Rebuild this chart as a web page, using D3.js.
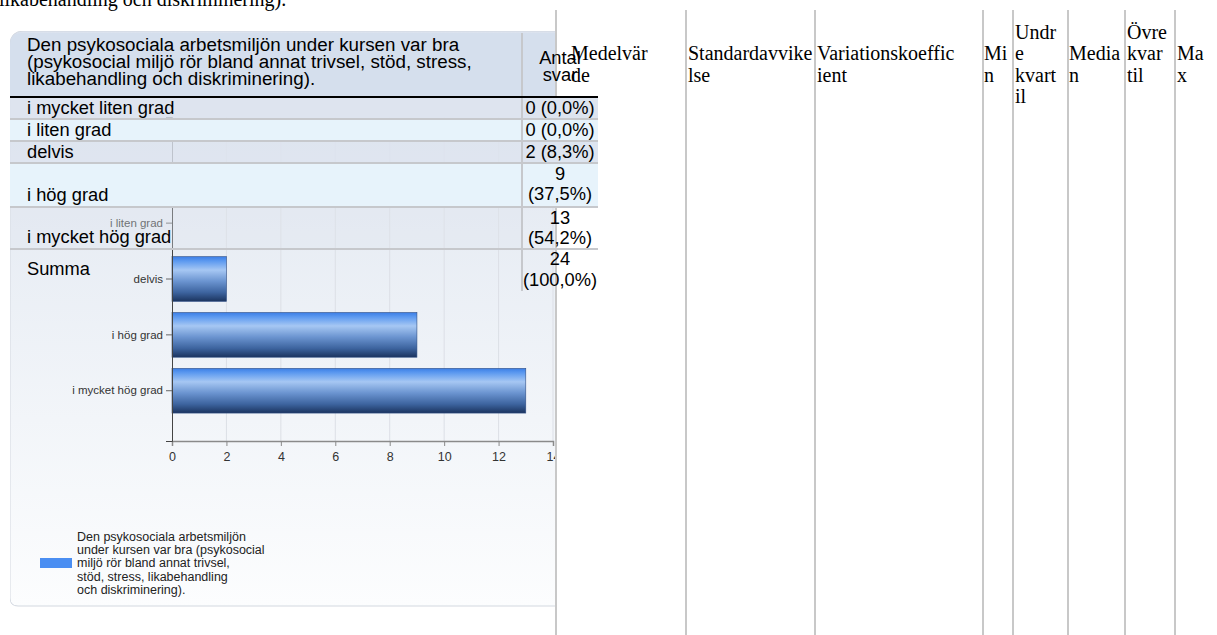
<!DOCTYPE html>
<html><head><meta charset="utf-8">
<script src="https://cdn.jsdelivr.net/npm/d3@7"></script>
<style>
html,body{margin:0;padding:0;background:#fff;}
svg{display:block;}
</style></head>
<body>
<svg id="page" width="1217" height="635"></svg>
<script>
// Survey question and answer counts
const questionLines = [
  "Den psykosociala arbetsmiljön under kursen var bra",
  "(psykosocial miljö rör bland annat trivsel, stöd, stress,",
  "likabehandling och diskriminering)."
];
const categories = ["i mycket liten grad", "i liten grad", "delvis", "i hög grad", "i mycket hög grad"];
const counts = [0, 0, 2, 9, 13];
const xTicks = [0, 2, 4, 6, 8, 10, 12, 14];
const legendLines = [
  "Den psykosociala arbetsmiljön",
  "under kursen var bra (psykosocial",
  "miljö rör bland annat trivsel,",
  "stöd, stress, likabehandling",
  "och diskriminering)."
];
// Statistics table headers, as wrapped in their narrow columns
const statHeaders = [["Medelvär","de"],["Standardavvike","lse"],["Variationskoeffic","ient"],["Mi","n"],["Undr","e","kvart","il"],["Media","n"],["Övre","kvar","til"],["Ma","x"]];
const statFirstLine = [1, 1, 1, 1, 0, 1, 0, 1];

const svg = d3.select("#page");
const total = d3.sum(counts);
const pct = v => "(" + d3.format(".1f")(v / total * 100).replace(".", ",") + "%)";
const SANS = "Arial, Liberation Sans, sans-serif";
const SERIF = "Liberation Serif, Times New Roman, serif";

const defs = svg.append("defs");
const pg = defs.append("linearGradient").attr("id","panelGrad").attr("x1",0).attr("y1",0).attr("x2",0).attr("y2",1);
pg.append("stop").attr("offset","0%").attr("stop-color","#dbe2ee");
pg.append("stop").attr("offset","35%").attr("stop-color","#e8edf4");
pg.append("stop").attr("offset","100%").attr("stop-color","#fcfdfe");
const bg = defs.append("linearGradient").attr("id","barGrad").attr("x1",0).attr("y1",0).attr("x2",0).attr("y2",1);
[["0%","#3b7ee6"],["10%","#5d9af0"],["30%","#a6c7f3"],["55%","#6b94d0"],["80%","#3d649f"],["100%","#1b345f"]]
  .forEach(([o,c]) => bg.append("stop").attr("offset",o).attr("stop-color",c));
defs.append("clipPath").attr("id","panelClip").append("rect").attr("x",10).attr("y",31).attr("width",547).attr("height",580);
const blur = defs.append("filter").attr("id","soft").attr("x","-5%").attr("y","-50%").attr("width","110%").attr("height","200%");
blur.append("feGaussianBlur").attr("stdDeviation",1.2);

// Text cut at the top edge
svg.append("text").attr("x",-1).attr("y",6)
  .attr("font-family",SERIF).attr("font-size",20).attr("fill","#000")
  .text(questionLines[2]);

// ---- Chart panel ----
svg.append("line").attr("x1",14).attr("x2",557).attr("y1",608).attr("y2",608)
  .attr("stroke","#8a8a8a").attr("stroke-width",3).attr("filter","url(#soft)");
const panel = svg.append("g").attr("clip-path","url(#panelClip)");
panel.append("path")
  .attr("d","M10,45 Q10,31 24,31 L560,31 L560,606 L18,606 Q10,606 10,598 Z")
  .attr("fill","url(#panelGrad)").attr("stroke","#d3d8e0").attr("stroke-width",1);

const x = d3.scaleLinear().domain([0,14]).range([172,553]);
const y = d3.scaleBand().domain(categories).range([117,441]).paddingInner(0.2).paddingOuter(0.5);

panel.append("g").selectAll("line").data(xTicks.slice(1)).join("line")
  .attr("x1",d=>x(d)).attr("x2",d=>x(d)).attr("y1",117).attr("y2",441)
  .attr("stroke","#dcdfe6").attr("stroke-width",1);

panel.append("g").selectAll("rect").data(categories.map((c,i)=>({c, v:counts[i]})).filter(d=>d.v>0)).join("rect")
  .attr("x",x(0)).attr("y",d=>y(d.c)).attr("width",d=>x(d.v)-x(0)).attr("height",y.bandwidth())
  .attr("fill","url(#barGrad)").attr("stroke","#2f4f85").attr("stroke-width",0.6);

const xAxis = panel.append("g").attr("transform","translate(0,441)")
  .call(d3.axisBottom(x).tickValues(xTicks).tickSize(5).tickSizeOuter(5).tickPadding(6));
xAxis.select(".domain").attr("stroke","#8a8a8a").attr("stroke-width",1.5);
xAxis.selectAll(".tick line").attr("stroke","#8a8a8a");
xAxis.selectAll("text").attr("font-family",SANS).attr("font-size",12.5).attr("fill","#333");

const yAxis = panel.append("g").attr("transform",`translate(${x(0)},0)`)
  .call(d3.axisLeft(y).tickSize(6).tickSizeOuter(6).tickPadding(3));
yAxis.select(".domain").attr("stroke","#444").attr("stroke-width",1);
yAxis.selectAll(".tick line").attr("stroke","#666");
yAxis.selectAll("text").attr("font-family",SANS).attr("font-size",11.5).attr("fill","#333");

// legend
panel.append("rect").attr("x",40).attr("y",558).attr("width",32).attr("height",10).attr("fill","#4a8ef2");
panel.append("g").selectAll("text").data(legendLines).join("text")
  .attr("x",77).attr("y",(d,i)=>541+i*13.2)
  .attr("font-family",SANS).attr("font-size",12.5).attr("fill","#222")
  .text(d=>d);

// ---- Statistics table grid ----
const colX = [556, 686, 815, 983, 1013, 1068, 1125, 1175];
svg.append("g").selectAll("line").data(colX).join("line")
  .attr("x1",d=>d).attr("x2",d=>d).attr("y1",10).attr("y2",635)
  .attr("stroke","#c8c8c8").attr("stroke-width",2);

// ---- Answer table ----
const tbl = svg.append("g").attr("font-family",SANS).attr("font-size",18.3).attr("fill","#000");
tbl.append("path").attr("d","M10,45 Q10,33 22,33 L555,33 L555,96 L10,96 Z").attr("fill","#d5dfed");
tbl.append("rect").attr("x",557).attr("y",33).attr("width",41).attr("height",63).attr("fill","#fff");
tbl.append("g").selectAll("text").data(questionLines).join("text")
  .attr("x",27).attr("y",(d,i)=>51+i*17).attr("font-size",18.8).text(d=>d);

const rows = [
  {top:98,  h:20, fill:"#dde4ef", op:0.8, cell:"#dde4ef"},
  {top:120, h:20, fill:"#e7f3fb", op:1,   cell:"#e7f3fb"},
  {top:142, h:20, fill:"#dde4ef", op:0.8, cell:"#dde4ef"},
  {top:164, h:42, fill:"#e7f3fb", op:1,   cell:"#e7f3fb"},
  {top:208, h:40, fill:"#dfe5ee", op:0.35, cell:null},
  {top:250, h:41, fill:null, op:0, cell:null}
];
rows.forEach(r => {
  if (r.fill) tbl.append("rect").attr("x",10).attr("y",r.top).attr("width",512).attr("height",r.h).attr("fill",r.fill).attr("fill-opacity",r.op);
  if (r.cell) tbl.append("rect").attr("x",523).attr("y",r.top).attr("width",75).attr("height",r.h).attr("fill",r.cell);
});
[119,141,163,207,249].forEach(yy => tbl.append("line").attr("x1",10).attr("x2",598).attr("y1",yy).attr("y2",yy).attr("stroke","#c6c8cc").attr("stroke-width",2));
tbl.append("line").attr("x1",522).attr("x2",522).attr("y1",33).attr("y2",291).attr("stroke","#c6c8cc").attr("stroke-width",2);
tbl.append("line").attr("x1",10).attr("x2",598).attr("y1",97).attr("y2",97).attr("stroke","#000").attr("stroke-width",2);

tbl.append("text").attr("x",560).attr("y",64).attr("text-anchor","middle").text("Antal");
tbl.append("text").attr("x",560).attr("y",81).attr("text-anchor","middle").text("svar");

const labelBase = [114, 136, 158, 201, 243];
categories.forEach((c,i) => {
  tbl.append("text").attr("x",27).attr("y",labelBase[i]).text(c);
  const v = counts[i];
  if (rows[i].h > 25) {
    tbl.append("text").attr("x",560).attr("y",rows[i].top+16).attr("text-anchor","middle").text(v);
    tbl.append("text").attr("x",560).attr("y",rows[i].top+36).attr("text-anchor","middle").text(pct(v));
  } else {
    tbl.append("text").attr("x",560).attr("y",labelBase[i]).attr("text-anchor","middle").text(v + " " + pct(v));
  }
});
tbl.append("text").attr("x",27).attr("y",275).text("Summa");
tbl.append("text").attr("x",560).attr("y",265).attr("text-anchor","middle").text(total);
tbl.append("text").attr("x",560).attr("y",286).attr("text-anchor","middle").text(pct(total));

// ---- Statistics header text ----
const statTextX = [571, 688, 817, 984, 1015, 1069, 1127, 1177];
const lineBase = [39, 60, 82, 103];
const st = svg.append("g").attr("font-family",SERIF).attr("font-size",20).attr("fill","#000");
statHeaders.forEach((lines,i) => {
  lines.forEach((t,j) => st.append("text").attr("x",statTextX[i]).attr("y",lineBase[statFirstLine[i]+j]).text(t));
});
</script>
</body></html>
